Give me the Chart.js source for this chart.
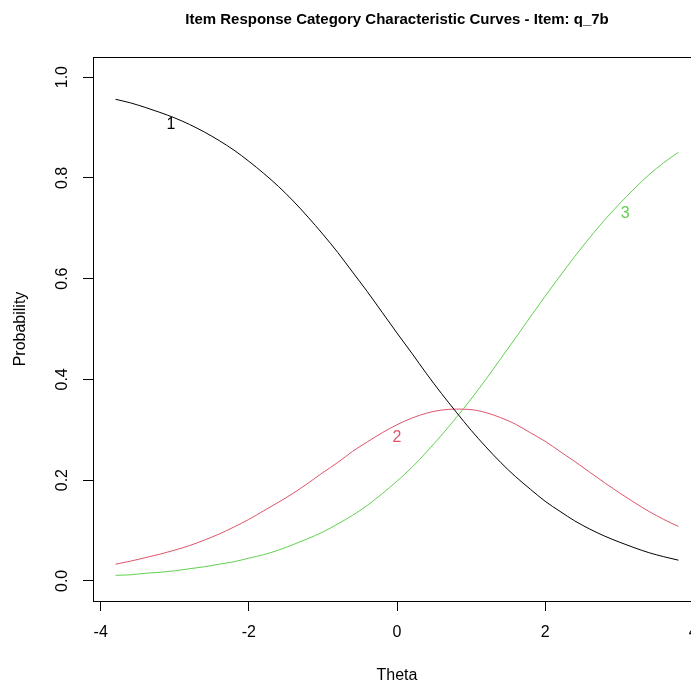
<!DOCTYPE html>
<html>
<head>
<meta charset="utf-8">
<script src="https://cdn.jsdelivr.net/npm/chart.js@4.4.0/dist/chart.umd.min.js"></script>
<style>
  html, body { margin: 0; padding: 0; background: #fff; overflow: hidden; }
  #wrap { width: 691px; height: 686px; overflow: hidden; }
  canvas { display: block; }
</style>
</head>
<body>
<div id="wrap"><canvas id="chart" width="720" height="686"></canvas></div>
<script>
// values
const theta = [-3.8, -3.6, -3.4, -3.2, -3.0, -2.8, -2.6, -2.4, -2.2, -2.0,
               -1.8, -1.6, -1.4, -1.2, -1.0, -0.8, -0.6, -0.4, -0.2, 0.0,
                0.2,  0.4,  0.6,  0.8,  1.0,  1.2,  1.4,  1.6,  1.8, 2.0,
                2.2,  2.4,  2.6,  2.8,  3.0,  3.2,  3.4,  3.6,  3.8];
const cat1 = [0.956, 0.949, 0.940, 0.930, 0.919, 0.906, 0.891, 0.874, 0.855, 0.833,
              0.809, 0.783, 0.754, 0.722, 0.688, 0.652, 0.613, 0.574, 0.533, 0.492,
              0.452, 0.411, 0.372, 0.335, 0.299, 0.266, 0.235, 0.207, 0.182, 0.158,
              0.138, 0.119, 0.103, 0.089, 0.077, 0.066, 0.056, 0.048, 0.041];
const cat2 = [0.033, 0.039, 0.046, 0.053, 0.061, 0.070, 0.081, 0.093, 0.107, 0.122,
              0.139, 0.156, 0.174, 0.194, 0.215, 0.235, 0.257, 0.276, 0.294, 0.310,
              0.323, 0.333, 0.339, 0.341, 0.340, 0.334, 0.324, 0.311, 0.294, 0.277,
              0.257, 0.237, 0.216, 0.195, 0.175, 0.156, 0.138, 0.122, 0.108];
const cat3 = [0.011, 0.012, 0.015, 0.017, 0.020, 0.024, 0.028, 0.033, 0.038, 0.045,
              0.052, 0.061, 0.072, 0.084, 0.097, 0.113, 0.130, 0.150, 0.173, 0.198,
              0.225, 0.256, 0.289, 0.324, 0.361, 0.400, 0.441, 0.482, 0.524, 0.565,
              0.605, 0.644, 0.681, 0.716, 0.748, 0.778, 0.806, 0.830, 0.851];

const xTicks = [-4, -2, 0, 2, 4];
const yTicks = [0, 0.2, 0.4, 0.6, 0.8, 1.0];
const yTickLabels = ['0.0', '0.2', '0.4', '0.6', '0.8', '1.0'];

// curve number labels (data coords)
const curveNames = ['1', '2', '3'];
const labelTheta = [-3.05, 0.0, 3.08];
const labelProb = [0.905, 0.284, 0.729];

const colors = ['#000000', '#DF536B', '#61D04F'];
const FONT = '"Liberation Sans", Arial, Helvetica, sans-serif';

function pts(ys) {
    return theta.map((t, i) => ({x: t, y: ys[i]}));
}

// box, rotated y labels and curve numbers like base R
const rPlot = {
    id: 'rPlot',
    afterDraw(chart) {
        const ctx = chart.ctx;
        const a = chart.chartArea;
        const xs = chart.scales.x, ys = chart.scales.y;
        ctx.save();
        ctx.strokeStyle = '#000';
        ctx.lineWidth = 1;
        ctx.strokeRect(Math.round(a.left) + 0.5, Math.round(a.top) + 0.5,
                       Math.round(a.right - a.left), Math.round(a.bottom - a.top));

        ctx.font = '16px ' + FONT;
        ctx.textAlign = 'center';
        ctx.textBaseline = 'middle';
        ctx.fillStyle = '#000';
        yTicks.forEach((v, i) => {
            ctx.save();
            ctx.translate(a.left - 30, ys.getPixelForValue(v));
            ctx.rotate(-Math.PI / 2);
            ctx.fillText(yTickLabels[i], 0, 0);
            ctx.restore();
        });

        curveNames.forEach((n, i) => {
            ctx.fillStyle = colors[i];
            ctx.fillText(n, xs.getPixelForValue(labelTheta[i]), ys.getPixelForValue(labelProb[i]));
        });
        ctx.restore();
    }
};

const lineStyle = {
    borderWidth: 1,
    pointRadius: 0,
    fill: false,
    cubicInterpolationMode: 'monotone'
};

new Chart(document.getElementById('chart').getContext('2d'), {
    type: 'line',
    data: {
        datasets: [
            Object.assign({label: '1', data: pts(cat1), borderColor: colors[0]}, lineStyle),
            Object.assign({label: '2', data: pts(cat2), borderColor: colors[1]}, lineStyle),
            Object.assign({label: '3', data: pts(cat3), borderColor: colors[2]}, lineStyle)
        ]
    },
    options: {
        responsive: false,
        animation: false,
        devicePixelRatio: 1,
        layout: { padding: { left: 0, right: 19, top: 0, bottom: 0 } },
        plugins: {
            legend: { display: false },
            tooltip: { enabled: false },
            title: {
                display: true,
                fullSize: false,
                text: 'Item Response Category Characteristic Curves - Item: q_7b',
                color: '#000',
                font: { family: FONT, size: 15, weight: 'bold', lineHeight: 1.2 },
                padding: { top: 10.5, bottom: 28.5 }
            }
        },
        scales: {
            x: {
                type: 'linear',
                position: 'bottom',
                min: -4.104,
                max: 4.104,
                afterBuildTicks: s => { s.ticks = xTicks.map(v => ({value: v})); },
                afterFit: s => { s.height = 85; },
                grid: { drawOnChartArea: false, drawTicks: true, tickLength: 10, color: '#000' },
                border: { display: false },
                ticks: {
                    color: '#000', font: { family: FONT, size: 16 },
                    padding: 12, maxRotation: 0, autoSkip: false,
                    callback: v => String(v)
                },
                title: {
                    display: true, text: 'Theta', color: '#000',
                    font: { family: FONT, size: 16 },
                    padding: { top: 0, bottom: 1 }
                }
            },
            y: {
                type: 'linear',
                position: 'left',
                min: -0.04,
                max: 1.04,
                afterBuildTicks: s => { s.ticks = yTicks.map(v => ({value: v})); },
                afterFit: s => { s.width = 93; },
                grid: { drawOnChartArea: false, drawTicks: true, tickLength: 10, color: '#000' },
                border: { display: false },
                ticks: { display: false },
                title: {
                    display: true, text: 'Probability', color: '#000',
                    font: { family: FONT, size: 16 },
                    padding: { top: 11, bottom: 0 }
                }
            }
        }
    },
    plugins: [rPlot]
});
</script>
</body>
</html>
